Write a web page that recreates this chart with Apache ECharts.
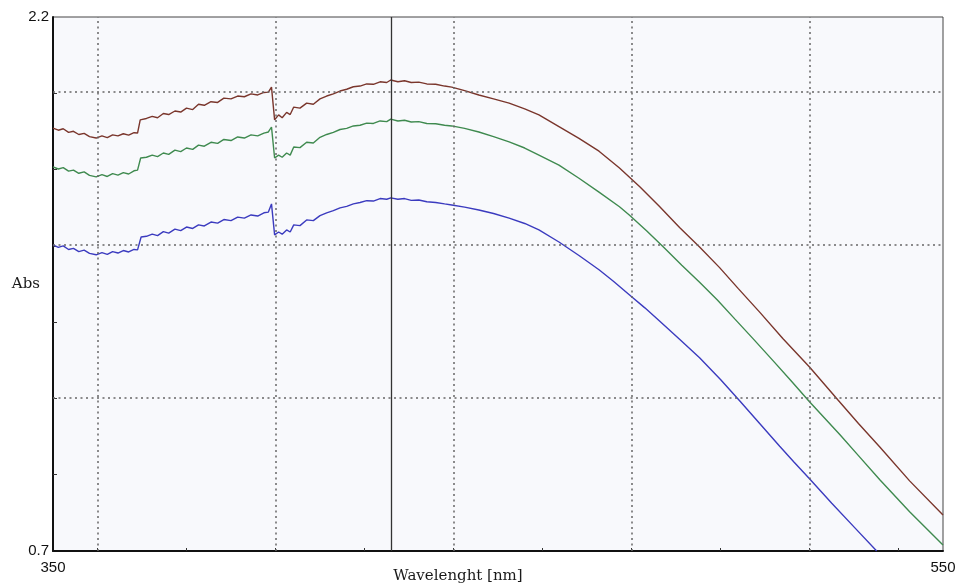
<!DOCTYPE html>
<html>
<head>
<meta charset="utf-8">
<script src="https://cdn.jsdelivr.net/npm/echarts@6/dist/echarts.min.js"></script>
<style>
  html, body { margin: 0; padding: 0; background: #fff; }
  #chart { width: 955px; height: 588px; }
</style>
</head>
<body>
<div id="chart"></div>
<script>
// wavelength range and absorbance range
const xRange = [350, 550];
const yRange = [0.7, 2.2];
const xLabels = [350, 550];
const yLabels = [0.7, 2.2];
const xGrid = [360, 400, 440, 480, 520];
const xTicks = [360, 380, 400, 420, 440, 460, 480, 500, 520, 540];
const cursorX = 426;

// [nm, Abs]
const brownData = [
    [350, 1.888], [351.2, 1.882], [352.3, 1.886], [353.5, 1.876], [354.6, 1.879], [355.8, 1.870],
    [357, 1.873], [358.2, 1.864], [359.7, 1.860], [361, 1.866], [362.2, 1.861], [363.4, 1.869],
    [364.6, 1.866], [365.8, 1.872], [367, 1.868], [368.2, 1.875], [369, 1.874], [369.6, 1.911],
    [371, 1.915], [372.3, 1.921], [373.5, 1.917], [374.8, 1.929], [376, 1.926], [377.4, 1.936],
    [378.7, 1.933], [380, 1.944], [381.4, 1.940], [382.7, 1.955], [384, 1.952], [385.5, 1.962],
    [387, 1.960], [388.4, 1.972], [390, 1.970], [391.5, 1.978], [393, 1.976], [394.5, 1.984],
    [396, 1.981], [397.4, 1.988], [398.4, 1.989], [399.1, 2.003], [399.8, 1.911], [400.7, 1.925],
    [401.5, 1.917], [402.5, 1.932], [403.3, 1.926], [404.1, 1.947], [405.5, 1.944], [407, 1.958],
    [408.5, 1.955], [410, 1.970], [411.5, 1.978], [413, 1.984], [414.5, 1.992], [416, 1.997],
    [417.5, 2.004], [419, 2.006], [420.5, 2.012], [422, 2.011], [423.5, 2.018], [425, 2.016],
    [425.9, 2.023], [427.5, 2.018], [429, 2.021], [430.5, 2.016], [432.2, 2.017], [434, 2.012],
    [436, 2.011], [438, 2.006], [439.6, 2.003], [442.5, 1.993], [445.7, 1.981], [449, 1.970],
    [452.5, 1.958], [456, 1.942], [459.2, 1.925], [463.7, 1.892], [468.2, 1.859], [472.7, 1.823],
    [477.3, 1.776], [481.8, 1.724], [486.3, 1.668], [490.8, 1.609], [495.3, 1.554], [499.8, 1.496],
    [504, 1.437], [508.8, 1.371], [514, 1.297], [520, 1.217], [526.4, 1.124], [531, 1.058],
    [535.8, 0.992], [542.5, 0.897], [550, 0.801]
];
const greenData = [
    [350, 1.779], [351.2, 1.773], [352.3, 1.777], [353.5, 1.767], [354.6, 1.770], [355.8, 1.761],
    [357, 1.765], [358.2, 1.755], [359.7, 1.751], [361, 1.757], [362.2, 1.752], [363.4, 1.760],
    [364.6, 1.756], [365.8, 1.763], [367, 1.759], [368.2, 1.768], [369, 1.770], [369.7, 1.804],
    [371, 1.806], [372.3, 1.812], [373.5, 1.808], [374.8, 1.818], [376, 1.814], [377.4, 1.826],
    [378.7, 1.822], [380, 1.832], [381.4, 1.828], [382.7, 1.840], [384, 1.837], [385.5, 1.848],
    [387, 1.845], [388.4, 1.856], [390, 1.853], [391.5, 1.863], [393, 1.860], [394.5, 1.869],
    [396, 1.866], [397.4, 1.874], [398.4, 1.877], [399.1, 1.891], [399.8, 1.804], [400.7, 1.812],
    [401.5, 1.806], [402.5, 1.818], [403.3, 1.812], [404.1, 1.835], [405.5, 1.833], [407, 1.848],
    [408.5, 1.846], [410, 1.862], [411.5, 1.870], [413, 1.876], [414.5, 1.884], [416, 1.887],
    [417.5, 1.894], [419, 1.896], [420.5, 1.902], [422, 1.901], [423.5, 1.908], [425, 1.906],
    [425.9, 1.913], [427.5, 1.908], [429, 1.910], [430.5, 1.905], [432.2, 1.906], [434, 1.901],
    [436, 1.900], [438, 1.896], [439.6, 1.894], [442.5, 1.887], [445.7, 1.877], [449, 1.864],
    [452.5, 1.849], [456, 1.832], [459.2, 1.812], [463.7, 1.784], [468.2, 1.747], [472.7, 1.708],
    [477.3, 1.667], [479.5, 1.644], [483.5, 1.598], [487.4, 1.551], [491.3, 1.503], [495.3, 1.455],
    [499.3, 1.405], [503.2, 1.352], [507.2, 1.298], [512, 1.232], [516, 1.176], [520, 1.119],
    [526.9, 1.026], [531, 0.968], [535.8, 0.900], [542.5, 0.810], [550, 0.717]
];
const blueData = [
    [350, 1.560], [351.2, 1.553], [352.3, 1.557], [353.5, 1.547], [354.6, 1.550], [355.8, 1.541],
    [357, 1.545], [358.2, 1.536], [359.7, 1.532], [361, 1.538], [362.2, 1.533], [363.4, 1.541],
    [364.6, 1.537], [365.8, 1.544], [367, 1.540], [368.2, 1.547], [369, 1.546], [369.8, 1.582],
    [371, 1.584], [372.3, 1.590], [373.5, 1.586], [374.8, 1.597], [376, 1.593], [377.4, 1.604],
    [378.7, 1.600], [380, 1.610], [381.4, 1.606], [382.7, 1.616], [384, 1.613], [385.5, 1.624],
    [387, 1.621], [388.4, 1.631], [390, 1.628], [391.5, 1.638], [393, 1.635], [394.5, 1.644],
    [396, 1.641], [397.4, 1.650], [398.4, 1.652], [399.1, 1.675], [399.8, 1.588], [400.7, 1.596],
    [401.5, 1.590], [402.5, 1.602], [403.3, 1.596], [404.1, 1.616], [405.5, 1.614], [407, 1.630],
    [408.5, 1.628], [410, 1.642], [411.5, 1.650], [413, 1.656], [414.5, 1.664], [416, 1.668],
    [417.5, 1.675], [419, 1.679], [420.5, 1.684], [422, 1.683], [423.5, 1.690], [425, 1.688],
    [425.9, 1.692], [427.5, 1.688], [429, 1.690], [430.5, 1.685], [432.2, 1.686], [434, 1.681],
    [436, 1.679], [438, 1.675], [439.6, 1.672], [442.5, 1.666], [445.7, 1.658], [449, 1.648],
    [452.5, 1.635], [456, 1.620], [459.2, 1.602], [463.7, 1.568], [468.2, 1.530], [472.7, 1.490],
    [476, 1.457], [479.5, 1.420], [483, 1.383], [486.3, 1.346], [490.8, 1.295], [495.3, 1.243],
    [500, 1.182], [504.3, 1.122], [508.8, 1.058], [513.3, 0.994], [516.5, 0.950], [520, 0.903],
    [525, 0.834], [530.2, 0.765], [535.1, 0.700]
];

// y grid: 7 divisions, dotted line every second one
const yStep = (yRange[1] - yRange[0]) / 7;
const yTicks = [1, 2, 3, 4, 5, 6].map(k => yRange[0] + k * yStep);
const yGrid = [2, 4, 6].map(k => yRange[0] + k * yStep);

const labelFont = { color: "#111", fontSize: 15, fontFamily: "Liberation Sans, Arial, sans-serif" };
const nameFont = { color: "#1a1a1a", fontSize: 15, fontFamily: "DejaVu Serif, serif" };
const dotted = { color: "#666", width: 1.5, type: [2, 3.5] };

const chart = echarts.init(document.getElementById("chart"));

function curve(name, data, color) {
    return {
        name: name,
        type: "line",
        data: data,
        symbol: "none",
        z: 3,
        clip: true,
        lineStyle: { color: color, width: 1.4 },
        animation: false
    };
}

chart.setOption({
    backgroundColor: "#fff",
    animation: false,
    grid: {
        left: 53, right: 12, top: 17, bottom: 37,
        outerBoundsMode: "none",
        containLabel: false,
        show: true,
        backgroundColor: "#f8f9fc",
        borderColor: "#444",
        borderWidth: 1
    },
    xAxis: {
        type: "value",
        min: xRange[0],
        max: xRange[1],
        name: "Wavelenght [nm]",
        nameLocation: "middle",
        nameGap: 18,
        nameMoveOverlap: false,
        nameTextStyle: Object.assign({ padding: [0, 80, 0, 0] }, nameFont),
        axisLine: { lineStyle: { color: "#111", width: 2 } },
        axisTick: { customValues: xTicks, inside: true, length: 3, lineStyle: { color: "#333" } },
        axisLabel: Object.assign({ customValues: xLabels, margin: 9 }, labelFont),
        splitLine: { show: false }
    },
    yAxis: {
        type: "value",
        min: yRange[0],
        max: yRange[1],
        name: "Abs",
        nameLocation: "middle",
        nameRotate: 0,
        nameGap: 13,
        nameMoveOverlap: false,
        nameTextStyle: nameFont,
        axisLine: { lineStyle: { color: "#111", width: 2 } },
        axisTick: { customValues: yTicks, inside: true, length: 4, lineStyle: { color: "#333" } },
        axisLabel: Object.assign({ customValues: yLabels, margin: 4 }, labelFont),
        splitLine: { show: false }
    },
    series: [
        {
            name: "grid",
            type: "line",
            data: [],
            z: 1,
            markLine: {
                silent: true,
                symbol: "none",
                label: { show: false },
                animation: false,
                data: xGrid.map(v => ({ xAxis: v, lineStyle: dotted }))
                    .concat(yGrid.map(v => ({ yAxis: v, lineStyle: dotted })))
                    .concat([{ xAxis: cursorX, lineStyle: { color: "#333", width: 1.3, type: "solid" } }])
            }
        },
        curve("A", brownData, "#7a362c"),
        curve("B", greenData, "#3f8a4f"),
        curve("C", blueData, "#3b3bbf")
    ]
});
</script>
</body>
</html>
